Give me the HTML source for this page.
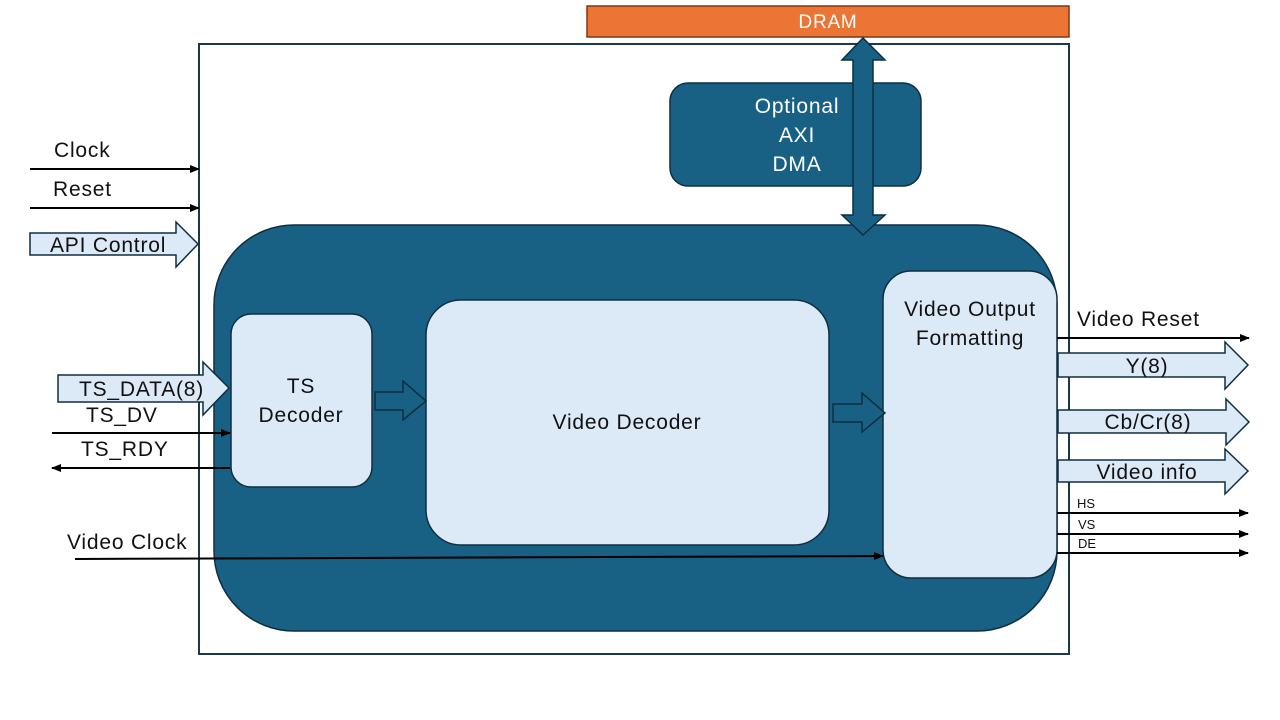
<!DOCTYPE html>
<html><head><meta charset="utf-8"><style>
html,body{margin:0;padding:0;background:#fff}
svg{display:block}
text{font-family:"Liberation Sans",sans-serif}
text[font-size="20"]{font-size:21px;letter-spacing:0.8px}
</style></head><body>
<svg width="1280" height="720" viewBox="0 0 1280 720" xmlns="http://www.w3.org/2000/svg">
<defs>
<marker id="ah" markerWidth="10" markerHeight="8" refX="9" refY="4" orient="auto" markerUnits="userSpaceOnUse">
<path d="M0,0 L10,4 L0,8 z" fill="#000"/></marker>
</defs>
<rect x="587" y="6" width="482" height="31" fill="#ec7434" stroke="#7a3a10" stroke-width="1.5"/>
<text x="828" y="28" font-size="19" fill="#fff" text-anchor="middle" style="letter-spacing:0.8px">DRAM</text>
<rect x="199" y="44" width="870" height="610" fill="none" stroke="#1a3a4a" stroke-width="2"/>
<rect x="670" y="83" width="251" height="103" rx="18" fill="#186185" stroke="#0e2f40" stroke-width="1.5"/>
<text x="797" y="113" font-size="20" fill="#fff" text-anchor="middle">Optional</text>
<text x="797" y="142" font-size="20" fill="#fff" text-anchor="middle">AXI</text>
<text x="797" y="171" font-size="20" fill="#fff" text-anchor="middle">DMA</text>
<rect x="214" y="225" width="843" height="406" rx="80" fill="#186185" stroke="#0e2f40" stroke-width="1.5"/>
<path d="M863,38 L885,60 L873,60 L873,215 L885,215 L863,235 L842,215 L853,215 L853,60 L842,60 z" fill="#186185" stroke="#0e2f40" stroke-width="1.5"/>
<rect x="231" y="314" width="141" height="173" rx="20" fill="#dce9f6" stroke="#0e2f40" stroke-width="1.5"/>
<text x="301" y="393" font-size="20" fill="#111" text-anchor="middle">TS</text>
<text x="301" y="422" font-size="20" fill="#111" text-anchor="middle">Decoder</text>
<rect x="426" y="300" width="403" height="245" rx="35" fill="#dce9f6" stroke="#0e2f40" stroke-width="1.5"/>
<text x="627" y="429" font-size="20" fill="#111" text-anchor="middle">Video Decoder</text>
<rect x="883" y="271" width="174" height="307" rx="28" fill="#dce9f6" stroke="#0e2f40" stroke-width="1.5"/>
<text x="970" y="316" font-size="20" fill="#111" text-anchor="middle">Video Output</text>
<text x="970" y="345" font-size="20" fill="#111" text-anchor="middle">Formatting</text>
<path d="M375,392 L403,392 L403,381 L426,401 L403,420 L403,410 L375,410 z" fill="#186185" stroke="#0e2f40" stroke-width="1.5"/>
<path d="M833,404 L862,404 L862,393 L885,413 L862,432 L862,422 L833,422 z" fill="#186185" stroke="#0e2f40" stroke-width="1.5"/>
<text x="54" y="157" font-size="20" fill="#111">Clock</text>
<line x1="30" y1="169" x2="199" y2="169" stroke="#000" stroke-width="2" marker-end="url(#ah)"/>
<text x="53" y="196" font-size="20" fill="#111">Reset</text>
<line x1="30" y1="208" x2="199" y2="208" stroke="#000" stroke-width="2" marker-end="url(#ah)"/>
<path d="M30,233 L176,233 L176,222 L198,244 L176,267 L176,255 L30,255 z" fill="#dce9f6" stroke="#0e2f40" stroke-width="1.5"/>
<text x="50" y="252" font-size="20" fill="#111">API Control</text>
<path d="M58,375 L203,375 L203,362 L229,388 L203,415 L203,402 L58,402 z" fill="#dce9f6" stroke="#0e2f40" stroke-width="1.5"/>
<text x="79" y="396" font-size="20" fill="#111">TS_DATA(8)</text>
<text x="86" y="422" font-size="20" fill="#111">TS_DV</text>
<line x1="52" y1="433" x2="230" y2="433" stroke="#000" stroke-width="2" marker-end="url(#ah)"/>
<text x="81" y="456" font-size="20" fill="#111">TS_RDY</text>
<line x1="230" y1="468" x2="52" y2="468" stroke="#000" stroke-width="2" marker-end="url(#ah)"/>
<text x="67" y="549" font-size="20" fill="#111">Video Clock</text>
<line x1="75" y1="559" x2="883" y2="556" stroke="#000" stroke-width="2" marker-end="url(#ah)"/>
<text x="1077" y="326" font-size="20" fill="#111">Video Reset</text>
<line x1="1057" y1="338" x2="1249" y2="338" stroke="#000" stroke-width="2" marker-end="url(#ah)"/>
<path d="M1058,353 L1225,353 L1225,342 L1248,365 L1225,389 L1225,377 L1058,377 z" fill="#dce9f6" stroke="#0e2f40" stroke-width="1.5"/>
<text x="1147" y="373" font-size="20" fill="#111" text-anchor="middle">Y(8)</text>
<path d="M1058,410 L1226,410 L1226,399 L1249,422 L1226,445 L1226,433 L1058,433 z" fill="#dce9f6" stroke="#0e2f40" stroke-width="1.5"/>
<text x="1148" y="429" font-size="20" fill="#111" text-anchor="middle">Cb/Cr(8)</text>
<path d="M1058,460 L1225,460 L1225,449 L1248,471 L1225,494 L1225,482 L1058,482 z" fill="#dce9f6" stroke="#0e2f40" stroke-width="1.5"/>
<text x="1147" y="479" font-size="20" fill="#111" text-anchor="middle">Video info</text>
<text x="1077" y="508" font-size="13" fill="#111">HS</text>
<line x1="1057" y1="513" x2="1248" y2="513" stroke="#000" stroke-width="2" marker-end="url(#ah)"/>
<text x="1078" y="529" font-size="13" fill="#111">VS</text>
<line x1="1057" y1="534" x2="1248" y2="534" stroke="#000" stroke-width="2" marker-end="url(#ah)"/>
<text x="1078" y="548" font-size="13" fill="#111">DE</text>
<line x1="1057" y1="553" x2="1248" y2="553" stroke="#000" stroke-width="2" marker-end="url(#ah)"/>
</svg>
</body></html>
